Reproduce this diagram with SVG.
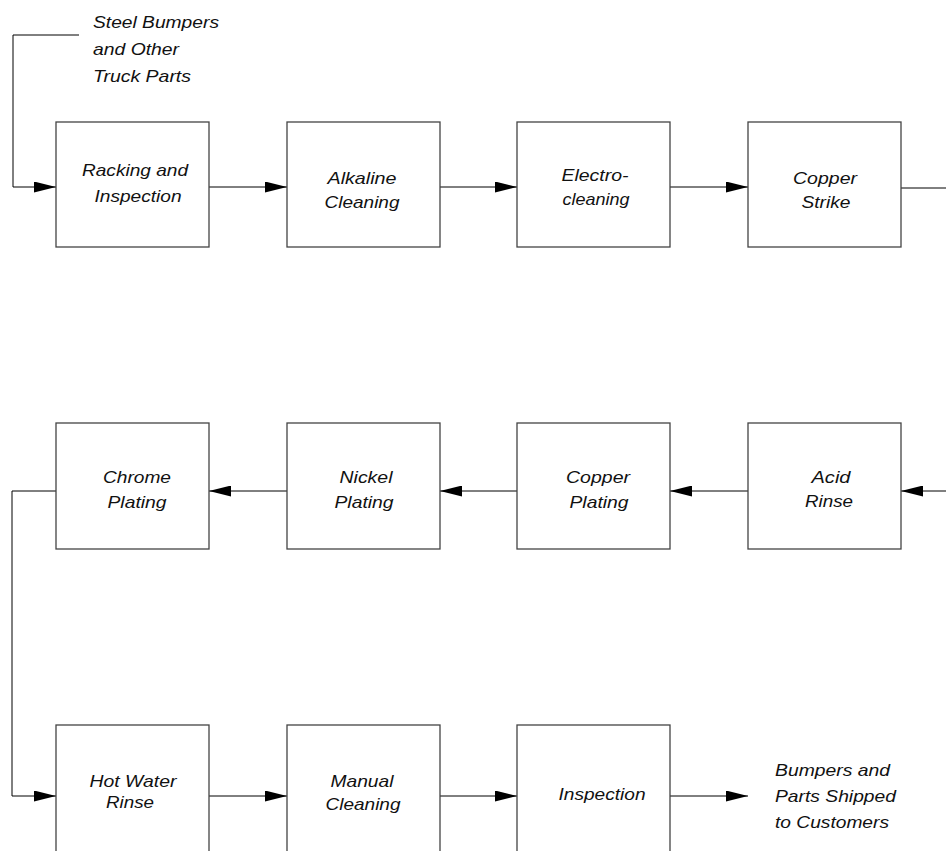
<svg xmlns="http://www.w3.org/2000/svg" width="946" height="851" viewBox="0 0 946 851">
<style>
.box{fill:#fff;stroke:#444;stroke-width:1.3}
.ln{fill:none;stroke:#000;stroke-width:1}
text{font-family:"Liberation Sans",Arial,sans-serif;font-style:italic;font-size:17px;fill:#111}
.c{text-anchor:middle}
</style>
<defs>
<marker id="ah" markerUnits="userSpaceOnUse" markerWidth="22" markerHeight="11" refX="22" refY="5.5" orient="auto">
<path d="M0,0 L22,5.5 L0,11 z" fill="#000"/>
</marker>
</defs>
<rect width="946" height="851" fill="#fff"/>
<g id="connectors">
<polyline class="ln" points="79,35 13,35 13,187 56,187" marker-end="url(#ah)"/>
<line class="ln" x1="209" y1="187" x2="287" y2="187" marker-end="url(#ah)"/>
<line class="ln" x1="440" y1="187" x2="517" y2="187" marker-end="url(#ah)"/>
<line class="ln" x1="670" y1="187" x2="748" y2="187" marker-end="url(#ah)"/>
<line class="ln" x1="901" y1="188" x2="946" y2="188"/>
<line class="ln" x1="946" y1="491" x2="901" y2="491" marker-end="url(#ah)"/>
<line class="ln" x1="748" y1="491" x2="670" y2="491" marker-end="url(#ah)"/>
<line class="ln" x1="517" y1="491" x2="440" y2="491" marker-end="url(#ah)"/>
<line class="ln" x1="287" y1="491" x2="209" y2="491" marker-end="url(#ah)"/>
<polyline class="ln" points="56,491 12,491 12,796 56,796" marker-end="url(#ah)"/>
<line class="ln" x1="209" y1="796" x2="287" y2="796" marker-end="url(#ah)"/>
<line class="ln" x1="440" y1="796" x2="517" y2="796" marker-end="url(#ah)"/>
<line class="ln" x1="670" y1="796" x2="748" y2="796" marker-end="url(#ah)"/>
</g>
<g id="input-label">
<text x="93" y="28" textLength="126" lengthAdjust="spacingAndGlyphs">Steel Bumpers</text>
<text x="93" y="55" textLength="86" lengthAdjust="spacingAndGlyphs">and Other</text>
<text x="93" y="82" textLength="98" lengthAdjust="spacingAndGlyphs">Truck Parts</text>
</g>
<g id="racking">
<rect class="box" x="56" y="122" width="153" height="125"/>
<text class="c" x="135" y="176" textLength="106" lengthAdjust="spacingAndGlyphs">Racking and</text>
<text class="c" x="138" y="202" textLength="87" lengthAdjust="spacingAndGlyphs">Inspection</text>
</g>
<g id="alkaline">
<rect class="box" x="287" y="122" width="153" height="125"/>
<text class="c" x="362" y="184" textLength="69" lengthAdjust="spacingAndGlyphs">Alkaline</text>
<text class="c" x="362" y="208" textLength="75" lengthAdjust="spacingAndGlyphs">Cleaning</text>
</g>
<g id="electro">
<rect class="box" x="517" y="122" width="153" height="125"/>
<text class="c" x="595" y="181" textLength="67" lengthAdjust="spacingAndGlyphs">Electro-</text>
<text class="c" x="596" y="205" textLength="67" lengthAdjust="spacingAndGlyphs">cleaning</text>
</g>
<g id="copper-strike">
<rect class="box" x="748" y="122" width="153" height="125"/>
<text class="c" x="825" y="184" textLength="64" lengthAdjust="spacingAndGlyphs">Copper</text>
<text class="c" x="826" y="208" textLength="49" lengthAdjust="spacingAndGlyphs">Strike</text>
</g>
<g id="chrome">
<rect class="box" x="56" y="423" width="153" height="126"/>
<text class="c" x="137" y="483" textLength="68" lengthAdjust="spacingAndGlyphs">Chrome</text>
<text class="c" x="137" y="508" textLength="59" lengthAdjust="spacingAndGlyphs">Plating</text>
</g>
<g id="nickel">
<rect class="box" x="287" y="423" width="153" height="126"/>
<text class="c" x="366" y="483" textLength="53" lengthAdjust="spacingAndGlyphs">Nickel</text>
<text class="c" x="364" y="508" textLength="59" lengthAdjust="spacingAndGlyphs">Plating</text>
</g>
<g id="copper-plating">
<rect class="box" x="517" y="423" width="153" height="126"/>
<text class="c" x="598" y="483" textLength="64" lengthAdjust="spacingAndGlyphs">Copper</text>
<text class="c" x="599" y="508" textLength="59" lengthAdjust="spacingAndGlyphs">Plating</text>
</g>
<g id="acid">
<rect class="box" x="748" y="423" width="153" height="126"/>
<text class="c" x="831" y="483" textLength="39" lengthAdjust="spacingAndGlyphs">Acid</text>
<text class="c" x="829" y="507" textLength="48" lengthAdjust="spacingAndGlyphs">Rinse</text>
</g>
<g id="hot-water">
<rect class="box" x="56" y="725" width="153" height="140"/>
<text class="c" x="133" y="787" textLength="87" lengthAdjust="spacingAndGlyphs">Hot Water</text>
<text class="c" x="130" y="808" textLength="48" lengthAdjust="spacingAndGlyphs">Rinse</text>
</g>
<g id="manual">
<rect class="box" x="287" y="725" width="153" height="140"/>
<text class="c" x="362" y="787" textLength="63" lengthAdjust="spacingAndGlyphs">Manual</text>
<text class="c" x="363" y="810" textLength="75" lengthAdjust="spacingAndGlyphs">Cleaning</text>
</g>
<g id="inspection">
<rect class="box" x="517" y="725" width="153" height="140"/>
<text class="c" x="602" y="800" textLength="87" lengthAdjust="spacingAndGlyphs">Inspection</text>
</g>
<g id="output-label">
<text x="775" y="776" textLength="115" lengthAdjust="spacingAndGlyphs">Bumpers and</text>
<text x="775" y="802" textLength="121" lengthAdjust="spacingAndGlyphs">Parts Shipped</text>
<text x="775" y="828" textLength="114" lengthAdjust="spacingAndGlyphs">to Customers</text>
</g>
</svg>
